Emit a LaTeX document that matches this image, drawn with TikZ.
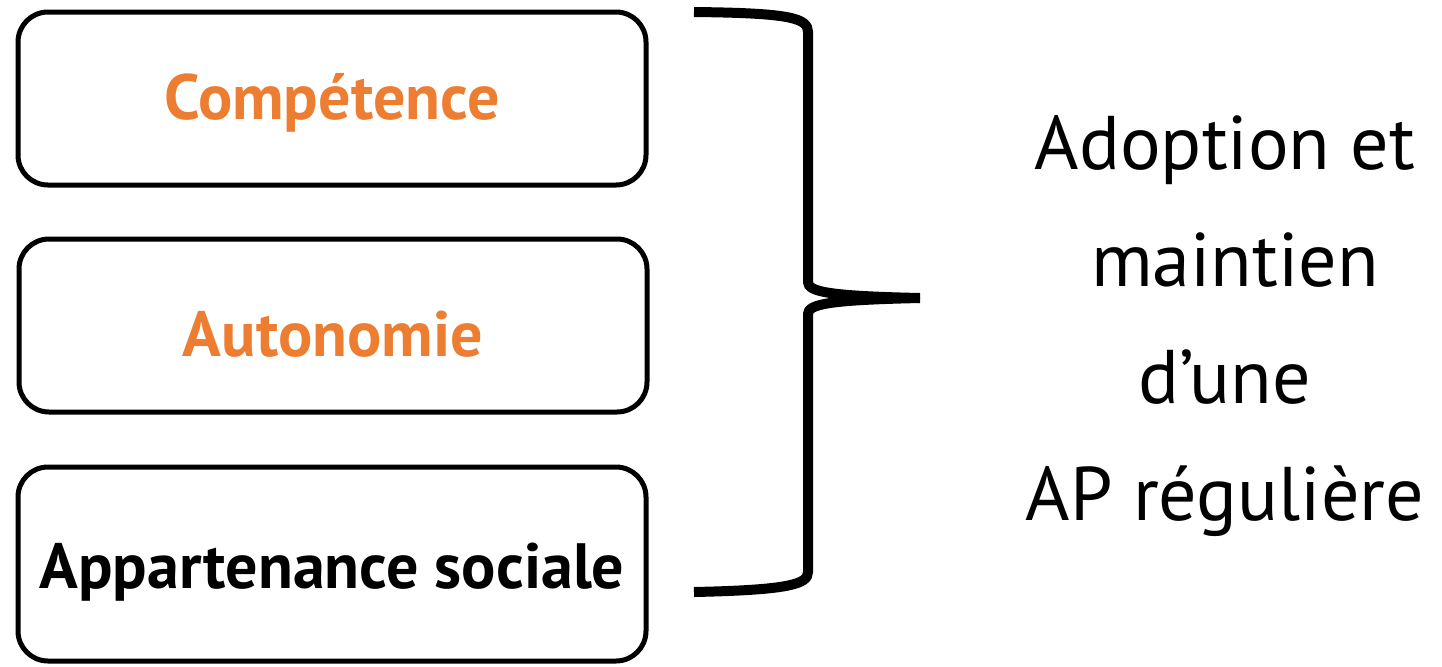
\documentclass[tikz,border=0pt]{standalone}
\usepackage{fontspec}
\setmainfont{PT Sans}
\definecolor{orangeAP}{HTML}{ED7D31}

\begin{document}
\begin{tikzpicture}[
    x=0.5pt, y=-0.5pt,
    box/.style={draw, line width=2.5pt, rounded corners=15pt, minimum width=314pt,
                minimum height=86.5pt, inner sep=0pt, align=center,
                text depth=2pt, font=\bfseries\fontsize{32}{38}\selectfont},
    curly/.style={line width=5pt},
    goal/.style={align=center, inner sep=0pt,
                 font=\fontsize{38}{58.5}\selectfont}
  ]
  \useasboundingbox (0,0) rectangle (1442,666);

  % Nodes
  \node[box, text=orangeAP, text height=22.5pt] (comp) at (332,98.5)  {Compétence};
  \node[box, text=orangeAP, text height=32.5pt] (auto) at (333,325.5) {Autonomie};
  \node[box, text height=26pt, minimum height=97pt] (soc) at (332,564) {Appartenance sociale};
  \node[goal] (ap) at (1225,326) {Adoption et\\ \hspace*{10pt}maintien\\d’une\\AP régulière};

  % Brace
  \coordinate (tip) at (920,298);
  \draw[curly] (694,12) .. controls (790,13) and (808,18) .. (808,32)
    -- (808,282) .. controls (808,292) and (830,296) .. (tip);
  \draw[curly] (tip) .. controls (830,300) and (808,304) .. (808,314)
    -- (808,572) .. controls (808,584) and (790,590) .. (694,592);
\end{tikzpicture}
\end{document}
